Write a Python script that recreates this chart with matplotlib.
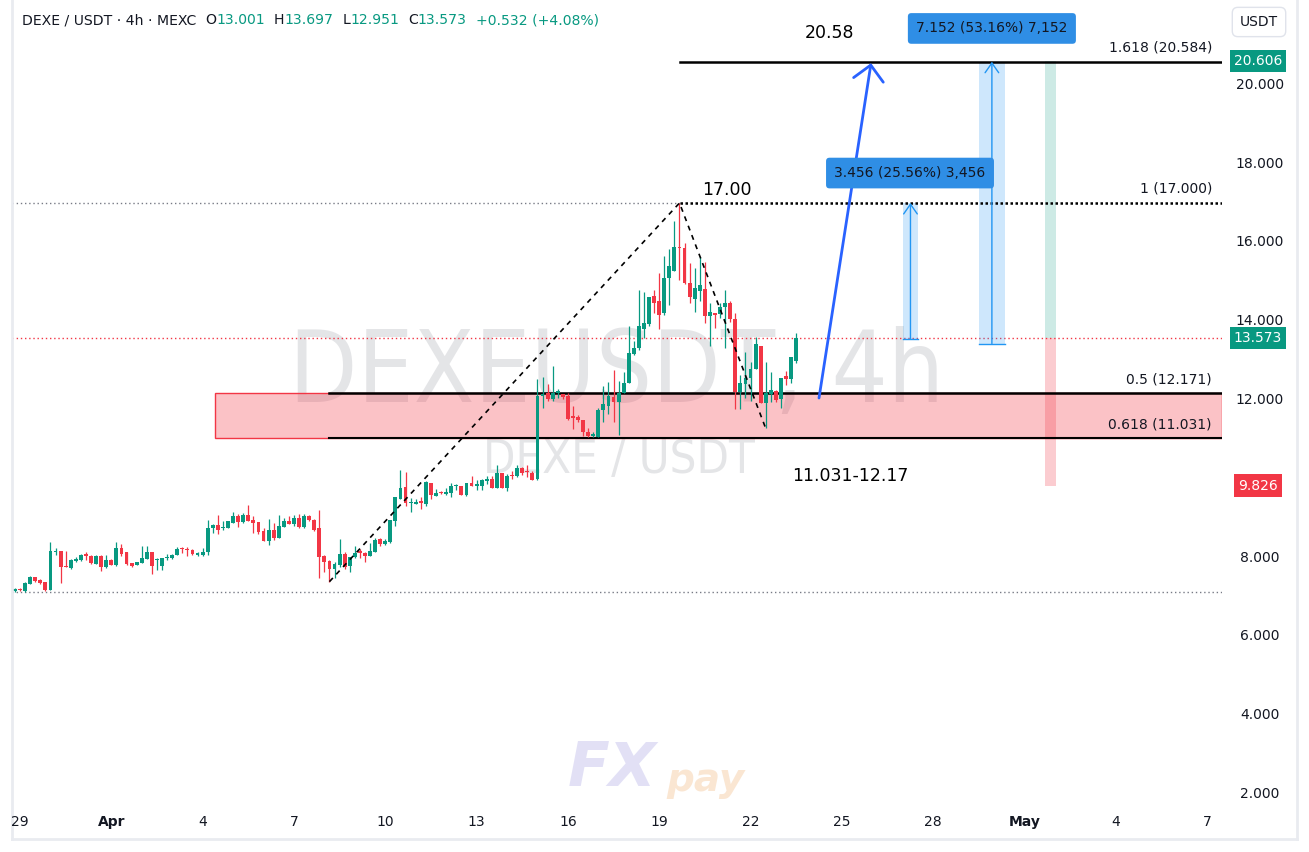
import matplotlib
matplotlib.use('Agg')
import matplotlib.pyplot as plt
import matplotlib.transforms as mtransforms
from matplotlib.patches import Rectangle
from matplotlib.lines import Line2D
from matplotlib import font_manager

# ---------------- data (4h candles, DEXE/USDT) ----------------
opens = [7.14, 7.20, 7.15, 7.34, 7.50, 7.43, 7.38, 7.19, 8.14, 8.18,
         7.76, 7.74, 7.92, 7.94, 8.07, 8.04, 7.85, 8.04, 7.77, 7.94,
         7.80, 8.24, 8.14, 7.86, 7.80, 7.86, 7.97, 8.14, 7.93, 7.78,
         7.99, 7.99, 8.07, 8.24, 8.23, 8.19, 8.07, 8.07, 8.13, 8.74,
         8.83, 8.74, 8.76, 8.88, 9.05, 8.91, 9.08, 8.95, 8.90, 8.67,
         8.43, 8.70, 8.51, 8.78, 8.93, 8.86, 9.00, 8.78, 9.06, 8.95,
         8.74, 8.04, 7.91, 7.71, 7.81, 8.09, 7.79, 8.02, 8.14, 8.12,
         8.05, 8.15, 8.47, 8.34, 8.40, 8.94, 9.50, 9.79, 9.38, 9.36,
         9.40, 9.35, 9.89, 9.57, 9.65, 9.61, 9.65, 9.81, 9.82, 9.59,
         9.89, 9.83, 9.82, 9.94, 9.99, 9.77, 10.14, 9.77, 10.08, 10.06,
         10.28, 10.18, 10.14, 9.99, 12.11, 12.17, 12.03, 12.19, 12.15, 12.09,
         11.57, 11.58, 11.49, 11.20, 11.09, 11.07, 11.75, 11.86, 12.08, 11.96,
         12.17, 12.42, 13.17, 13.33, 13.81, 13.94, 14.64, 14.51, 14.20, 15.09,
         15.28, 15.89, 15.87, 14.98, 14.56, 14.77, 14.82, 14.14, 14.22, 14.18,
         14.35, 14.47, 14.06, 12.21, 12.40, 12.55, 12.79, 13.37, 11.92, 12.16,
         12.24, 12.02, 12.61, 12.53, 13.001]
highs = [7.24, 7.22, 7.38, 7.53, 7.51, 7.45, 7.39, 8.40, 8.24, 8.18,
         8.17, 7.96, 8.01, 8.10, 8.13, 8.07, 8.07, 8.07, 8.07, 7.97,
         8.40, 8.34, 8.15, 7.87, 7.89, 8.30, 8.30, 8.15, 7.98, 8.00,
         8.08, 8.10, 8.27, 8.28, 8.26, 8.22, 8.14, 8.25, 8.96, 8.86,
         9.08, 8.93, 8.93, 9.16, 9.11, 9.13, 9.34, 9.06, 8.90, 8.76,
         8.97, 8.87, 9.08, 9.00, 9.06, 9.08, 9.11, 9.11, 9.08, 8.98,
         9.21, 8.07, 7.94, 7.89, 8.47, 8.15, 8.01, 8.30, 8.22, 8.14,
         8.36, 8.49, 8.50, 8.47, 8.95, 9.54, 10.23, 10.17, 9.52, 9.48,
         9.54, 9.94, 9.89, 9.74, 9.70, 9.77, 9.89, 9.88, 9.82, 9.90,
         10.06, 9.97, 9.99, 10.08, 10.06, 10.34, 10.14, 10.11, 10.21, 10.34,
         10.31, 10.34, 10.21, 12.53, 12.58, 12.40, 12.87, 12.28, 12.15, 12.18,
         11.84, 11.63, 11.49, 11.28, 11.20, 11.79, 12.35, 12.45, 12.76, 12.47,
         12.70, 13.87, 13.50, 14.78, 14.73, 14.62, 14.79, 15.22, 15.65, 15.83,
         16.54, 17.00, 15.99, 15.47, 15.36, 15.64, 15.50, 14.45, 14.22, 14.47,
         14.78, 14.52, 14.20, 12.63, 13.21, 12.97, 13.61, 13.37, 12.96, 12.71,
         12.26, 12.55, 12.73, 13.08, 13.697]
lows = [7.12, 7.15, 7.13, 7.33, 7.37, 7.34, 7.16, 7.18, 8.07, 7.36,
        7.75, 7.72, 7.89, 7.92, 7.95, 7.84, 7.85, 7.66, 7.74, 7.80,
        7.78, 8.04, 7.82, 7.76, 7.80, 7.86, 7.97, 7.58, 7.69, 7.68,
        7.95, 7.97, 8.07, 8.12, 8.05, 8.06, 8.03, 8.04, 8.06, 8.63,
        8.60, 8.71, 8.76, 8.87, 8.78, 8.87, 8.93, 8.63, 8.59, 8.41,
        8.33, 8.45, 8.51, 8.77, 8.85, 8.80, 8.75, 8.75, 8.93, 8.68,
        7.47, 7.64, 7.39, 7.47, 7.76, 7.71, 7.64, 8.00, 7.99, 7.88,
        8.05, 8.13, 8.30, 8.31, 8.38, 8.81, 9.50, 9.31, 9.17, 9.35,
        9.24, 9.30, 9.49, 9.57, 9.61, 9.60, 9.54, 9.72, 9.59, 9.57,
        9.82, 9.72, 9.72, 9.87, 9.76, 9.76, 9.77, 9.68, 10.00, 10.05,
        10.10, 10.04, 9.96, 9.97, 11.79, 11.98, 11.97, 12.05, 12.02, 11.49,
        11.27, 11.45, 11.08, 11.07, 11.07, 11.06, 11.45, 11.64, 11.44, 11.10,
        12.17, 12.42, 13.13, 13.28, 13.58, 13.88, 14.20, 13.80, 14.16, 14.42,
        15.27, 15.05, 14.95, 14.47, 14.23, 14.52, 13.95, 13.38, 13.82, 14.08,
        13.33, 13.97, 11.78, 11.78, 12.04, 11.97, 12.79, 11.92, 11.28, 11.96,
        11.96, 11.80, 12.38, 12.43, 12.951]
closes = [7.20, 7.18, 7.36, 7.51, 7.41, 7.36, 7.19, 8.17, 8.17, 7.75,
          7.75, 7.94, 7.96, 8.07, 8.05, 7.87, 8.04, 7.77, 7.94, 7.82,
          8.24, 8.09, 7.84, 7.79, 7.89, 7.99, 8.14, 7.78, 7.96, 7.99,
          8.02, 8.07, 8.23, 8.22, 8.19, 8.08, 8.09, 8.14, 8.76, 8.83,
          8.71, 8.78, 8.93, 9.05, 8.91, 9.08, 8.94, 8.89, 8.65, 8.43,
          8.70, 8.51, 8.80, 8.93, 8.86, 9.00, 8.78, 9.06, 8.95, 8.71,
          8.02, 7.89, 7.71, 7.84, 8.09, 7.77, 8.01, 8.12, 8.12, 8.05,
          8.17, 8.45, 8.34, 8.43, 8.95, 9.54, 9.76, 9.38, 9.39, 9.41,
          9.39, 9.91, 9.59, 9.64, 9.63, 9.66, 9.82, 9.83, 9.59, 9.89,
          9.82, 9.84, 9.97, 9.99, 9.77, 10.14, 9.77, 10.06, 10.06, 10.28,
          10.14, 10.16, 9.97, 12.09, 12.14, 12.02, 12.17, 12.21, 12.07, 11.52,
          11.55, 11.48, 11.18, 11.09, 11.11, 11.75, 11.89, 12.10, 11.96, 12.19,
          12.42, 13.20, 13.33, 13.88, 13.96, 14.62, 14.47, 14.17, 15.10, 15.41,
          15.89, 15.86, 14.98, 14.61, 14.83, 14.92, 14.14, 14.24, 14.17, 14.37,
          14.45, 14.05, 12.21, 12.42, 12.55, 12.79, 13.42, 11.92, 12.17, 12.25,
          12.00, 12.55, 12.54, 13.08, 13.573]

first_candle_day = -1 / 6      # Mar 28 20:00, days from Mar 29 00:00
candle_step = 1 / 6            # 4 hours

date_ticks = [0, 3, 6, 9, 12, 15, 18, 21, 24, 27, 30, 33, 36, 39]
date_labels = ['29', 'Apr', '4', '7', '10', '13', '16', '19', '22', '25', '28', 'May', '4', '7']
price_ticks = [2, 4, 6, 8, 12, 14, 16, 18, 20]

fib_low_day, fib_low = 10.167, 7.39
fib_high_day, fib_high = 21.667, 17.00
retrace_day, retrace_low = 24.5, 11.28
fib_levels = [(1.618, 20.584), (1.0, 17.000), (0.5, 12.171), (0.618, 11.031)]
zone_low, zone_high = 11.031, 12.171
zone_start_day = 6.41
last_close = 13.573
tp_price, sl_price = 20.606, 9.826
low_ray = 7.13
arrow_start = (26.25, 12.05)
arrow_end = (27.96, 20.55)
range1 = (29.01, 29.50, 13.544, 17.000, '3.456 (25.56%) 3,456')
range2 = (31.50, 32.36, 13.432, 20.584, '7.152 (53.16%) 7,152')
pos_day0, pos_day1 = 33.67, 34.03

# ---------------- style ----------------
GREEN = '#089981'
RED = '#f23645'
DARK = '#131722'
W, H = 1309, 852

plt.rcParams['font.family'] = ['DejaVu Sans']
fig = plt.figure(figsize=(W / 100, H / 100), dpi=100)
fig.patch.set_facecolor('white')
renderer = fig.canvas.get_renderer()

ax = fig.add_axes([12 / W, 1 - 808 / H, 1210 / W, 808 / H])
ax.set_xlim(-0.263, 39.49)
ax.set_ylim(1.645, 22.152)
for s in ax.spines.values():
    s.set_visible(False)
ax.set_xticks([])
ax.set_yticks([])
ax.set_facecolor('white')

# pick a narrow family if present
names = {f.name for f in font_manager.fontManager.ttflist}
narrow = 'Liberation Sans Narrow' if 'Liberation Sans Narrow' in names else 'DejaVu Sans'


def fit_text(t, target_w):
    bb = t.get_window_extent(renderer)
    t.set_fontsize(t.get_fontsize() * target_w / bb.width)


# watermarks
wm1 = ax.text(0.500, 0.537, 'DEXEUSDT, 4h', transform=ax.transAxes, ha='center', va='center',
              fontsize=81, color='#9598a1', alpha=0.25, zorder=0.5, family=narrow, fontstretch='condensed')
fit_text(wm1, 655)
wm2 = ax.text(0.502, 0.430, 'DEXE / USDT', transform=ax.transAxes, ha='center', va='center',
              fontsize=38, color='#9598a1', alpha=0.25, zorder=0.5, family=narrow, fontstretch='condensed')
fit_text(wm2, 272)

# horizontal reference lines
ax.axhline(low_ray, color='#787b86', lw=1, ls=(0, (1, 2)), zorder=1)
ax.axhline(last_close, color=RED, lw=1, ls=(0, (1, 2)), zorder=1)
ax.plot([-0.263, fib_high_day], [fib_high, fib_high], color='#787b86', lw=1, ls=(0, (1, 2)), zorder=1)

# demand zone
ax.add_patch(Rectangle((zone_start_day, zone_low), 39.49 - zone_start_day, zone_high - zone_low,
                       facecolor=(242 / 255, 54 / 255, 69 / 255, 0.3), edgecolor=RED, lw=1, zorder=1.2))

# fib lines
ax.plot([fib_high_day, 39.49], [20.584, 20.584], color='black', lw=1.8, zorder=2)
ax.plot([fib_high_day, 39.49], [17.0, 17.0], color='black', lw=1.8, ls=(0, (1, 1)), zorder=2)
ax.plot([fib_low_day, 39.49], [12.171, 12.171], color='black', lw=1.8, zorder=2)
ax.plot([fib_low_day, 39.49], [11.031, 11.031], color='black', lw=1.5, zorder=2)

lab_tr = mtransforms.offset_copy(ax.transData, fig=fig, x=0, y=10, units='dots')
for ratio, lvl in fib_levels:
    txt = f'{ratio:g} ({lvl:.3f})'
    ax.text(39.16, lvl, txt, transform=lab_tr, ha='right', va='baseline', fontsize=10, color=DARK, zorder=5)

# zig-zag dashed line
ax.plot([fib_low_day, fib_high_day, retrace_day], [fib_low, fib_high, retrace_low],
        color='black', lw=1.2, ls=(0, (3, 3)), zorder=4)

# candles
for i, (o, h, l, c) in enumerate(zip(opens, highs, lows, closes)):
    x = first_candle_day + i * candle_step
    col = GREEN if c >= o else RED
    ax.vlines(x, l, h, color=col, lw=0.9, zorder=3)
    bot = min(o, c)
    hgt = max(abs(c - o), 0.035)
    ax.bar(x, hgt, bottom=bot, width=0.76 * candle_step, color=col, linewidth=0, zorder=3.1)

# position bars
ax.add_patch(Rectangle((pos_day0, last_close), pos_day1 - pos_day0, tp_price - last_close,
                       facecolor=(8 / 255, 153 / 255, 129 / 255, 0.2), edgecolor='none', zorder=1.5))
ax.add_patch(Rectangle((pos_day0, sl_price), pos_day1 - pos_day0, last_close - sl_price,
                       facecolor=(242 / 255, 54 / 255, 69 / 255, 0.25), edgecolor='none', zorder=1.5))

# price range tools
for x0, x1, lo, hi, txt in [range1, range2]:
    ax.add_patch(Rectangle((x0, lo), x1 - x0, hi - lo, facecolor=(33 / 255, 150 / 255, 243 / 255, 0.22),
                           edgecolor='none', zorder=1.6))
    xc = (x0 + x1) / 2
    ax.annotate('', xy=(xc, hi), xytext=(xc, lo),
                arrowprops=dict(arrowstyle='->,head_length=0.5,head_width=0.35', color='#2196f3', lw=1,
                                shrinkA=0, shrinkB=0, mutation_scale=14), zorder=4)
    ax.plot([x0, x1], [lo, lo], color='#2196f3', lw=1, zorder=4)

ax.text(29.24, 17.76, range1[4], ha='center', va='center', fontsize=10, color=DARK, zorder=6,
        bbox=dict(boxstyle='round,pad=0.6,rounding_size=0.25', fc='#2f8ee5', ec='none'))
ax.text(31.93, 21.43, range2[4], ha='center', va='center', fontsize=10, color=DARK, zorder=6,
        bbox=dict(boxstyle='round,pad=0.6,rounding_size=0.25', fc='#2f8ee5', ec='none'))

# big blue arrow
ax.annotate('', xy=arrow_end, xytext=arrow_start,
            arrowprops=dict(arrowstyle='->,head_length=0.45,head_width=0.45', color='#2962ff', lw=2,
                            shrinkA=0, shrinkB=0, mutation_scale=24), zorder=5)

# annotation texts
ax.text(26.61, 21.31, '20.58', ha='center', va='center', fontsize=12.5, color='black', zorder=5)
ax.text(23.23, 17.32, '17.00', ha='center', va='center', fontsize=12.5, color='black', zorder=5)
ax.text(27.27, 10.07, '11.031-12.17', ha='center', va='center', fontsize=12.5, color='black', zorder=5)

# FXpay logo (faded)
fig.text(612 / W, 1 - 770 / H, 'FX', ha='center', va='center', fontsize=44, fontweight='bold',
         style='italic', color='#d6d4f2', alpha=0.7)
fig.text(706 / W, 1 - 780 / H, 'pay', ha='center', va='center', fontsize=28, fontweight='bold',
         style='italic', color='#f8dcc0', alpha=0.7)

# ---------------- UI: axes labels ----------------
ytr = mtransforms.blended_transform_factory(fig.transFigure, ax.transData)
for p in price_ticks:
    fig.text(1260 / W, p, f'{p:.3f}', transform=ytr, ha='center', va='center', fontsize=10, color=DARK)


def tag(value, color, txt):
    fig.text(1258 / W, value, txt, transform=ytr, ha='center', va='center', fontsize=10,
             color='white', zorder=10,
             bbox=dict(boxstyle='square,pad=0.3', fc=color, ec='none'))


tag(tp_price, GREEN, f'{tp_price:.3f}')
tag(last_close, GREEN, f'{last_close:.3f}')
tag(sl_price, RED, f'{sl_price:.3f}')

xtr = mtransforms.blended_transform_factory(ax.transData, fig.transFigure)
for d, lab in zip(date_ticks, date_labels):
    bold = lab in ('Apr', 'May')
    fig.text(d, 1 - 822 / H, lab, transform=xtr, ha='center', va='center', fontsize=10, color=DARK,
             fontweight='bold' if bold else 'normal')

# USDT button
fig.text(1259 / W, 1 - 22 / H, 'USDT', ha='center', va='center', fontsize=10, color=DARK,
         bbox=dict(boxstyle='round,pad=0.55,rounding_size=0.4', fc='white', ec='#e0e3eb'))

# header
segs = [('DEXE / USDT · 4h · MEXC', DARK, 9), ('O', DARK, 0), ('13.001', GREEN, 9),
        ('H', DARK, 0), ('13.697', GREEN, 9), ('L', DARK, 0), ('12.951', GREEN, 9),
        ('C', DARK, 0), ('13.573', GREEN, 9), ('+0.532 (+4.08%)', GREEN, 0)]
x = 22
for s, c, gap in segs:
    t = fig.text(x / W, 1 - 20 / H, s, ha='left', va='center', fontsize=10.1, color=c)
    bb = t.get_window_extent(renderer)
    x = x + bb.width + gap

# frame borders
fig.add_artist(Line2D([12 / W, 12 / W], [1 - 839 / H, 1], color='#e9ebf0', lw=2))
fig.add_artist(Line2D([12 / W, 1297 / W], [1 - 839 / H, 1 - 839 / H], color='#e9ebf0', lw=2))
fig.add_artist(Line2D([1297 / W, 1297 / W], [1 - 839 / H, 1], color='#e9ebf0', lw=2))

fig.savefig('out.png', dpi=100, facecolor='white')
